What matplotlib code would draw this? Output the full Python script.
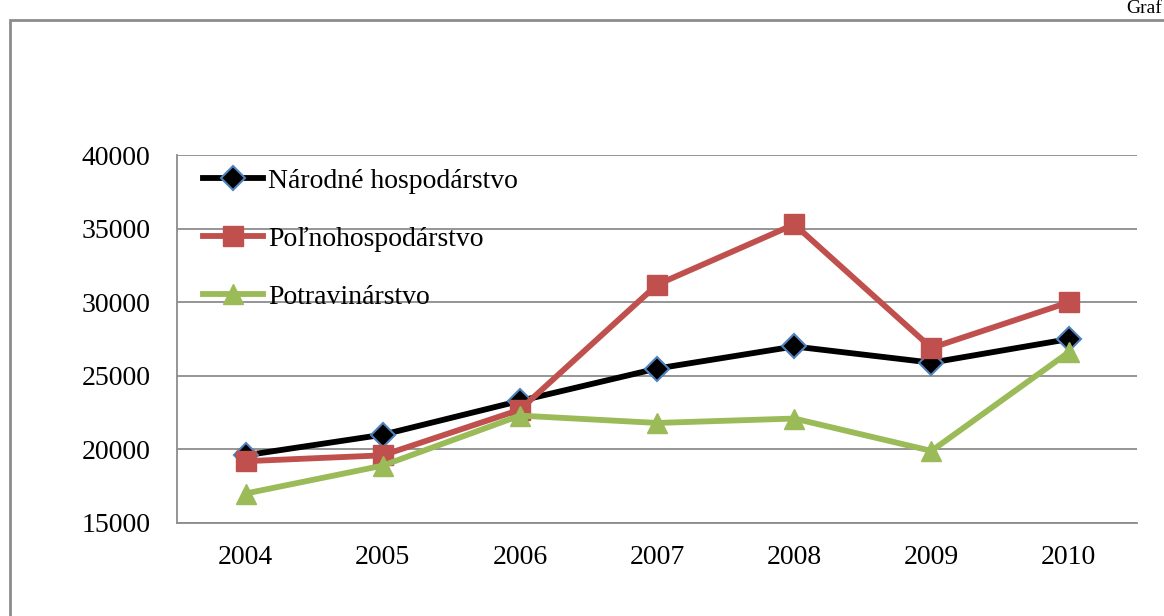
import matplotlib.pyplot as plt
from matplotlib.patches import Rectangle

# data
years = ['2004', '2005', '2006', '2007', '2008', '2009', '2010']
narodne = [19600, 21000, 23300, 25500, 27000, 25900, 27500]
polno = [19200, 19600, 22700, 31200, 35300, 26900, 30000]
potrav = [17000, 18900, 22300, 21800, 22100, 19900, 26600]
labels = ['Národné hospodárstvo', 'Poľnohospodárstvo', 'Potravinárstvo']
yticks = [15000, 20000, 25000, 30000, 35000, 40000]

plt.rcParams['font.family'] = ['Liberation Serif', 'DejaVu Serif']

fig = plt.figure(figsize=[11.64, 6.16], dpi=100)
ax = fig.add_axes([0.152, 0.151, 0.825, 0.597])

# outer chart frame (cut off at right and bottom)
fig.patches.append(Rectangle((10 / 1164, -0.05), 1.2, (616 - 20) / 616 + 0.05,
                             transform=fig.transFigure, fill=False,
                             edgecolor='#8c8c8c', lw=2))
fig.text(0.998, 1.0, 'Graf', ha='right', va='top', fontsize=14)

x = range(len(years))
ax.plot(x, narodne, '-', color='black', lw=4.2, marker='D', ms=12,
        mfc='black', mec='#4f81bd', mew=1.5, label=labels[0], zorder=3)
ax.plot(x, polno, '-', color='#c0504d', lw=4.2, marker='s', ms=14,
        mfc='#c0504d', mec='#c0504d', label=labels[1], zorder=3)
ax.plot(x, potrav, '-', color='#9bbb59', lw=4.2, marker='^', ms=15,
        mfc='#9bbb59', mec='#9bbb59', label=labels[2], zorder=3)

ax.set_xlim(-0.5, 6.5)
ax.set_ylim(15000, 40000)
ax.set_xticks(list(x))
ax.set_xticklabels(years)
ax.set_yticks(yticks)
ax.set_yticklabels([str(v) for v in yticks])
ax.tick_params(length=0, labelsize=20)
ax.tick_params(axis='y', pad=19)
ax.tick_params(axis='x', pad=16)
ax.grid(axis='y', color='#8c8c8c', lw=1.3)
ax.set_axisbelow(True)
for s in ['top', 'right']:
    ax.spines[s].set_visible(False)
for s in ['left', 'bottom']:
    ax.spines[s].set_color('#8c8c8c')
    ax.spines[s].set_linewidth(1.3)

ax.legend(loc='upper left', frameon=False, fontsize=20, handlelength=2.16,
          handletextpad=0.18, labelspacing=1.17, borderaxespad=0,
          bbox_to_anchor=(0.0156, 0.994))

fig.savefig('out.png', dpi=100)
